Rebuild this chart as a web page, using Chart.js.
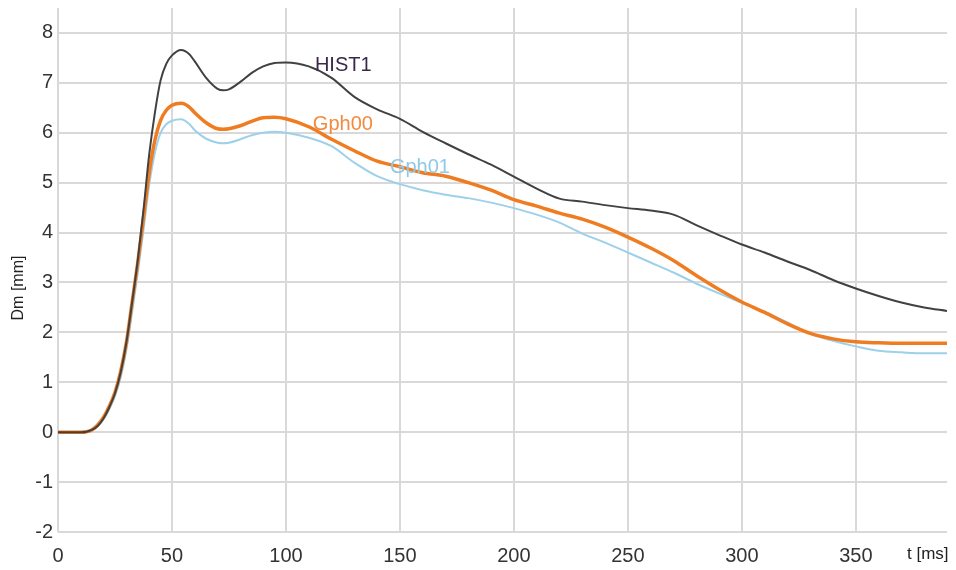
<!DOCTYPE html>
<html>
<head>
<meta charset="utf-8">
<script src="https://cdn.jsdelivr.net/npm/chart.js@4/dist/chart.umd.min.js"></script>
<style>
  html, body { margin: 0; padding: 0; background: #fff; }
  #wrap { position: relative; width: 956px; height: 570px; }
</style>
</head>
<body>
<div id="wrap"><canvas id="c"></canvas></div>
<script>
// ── data ───────────────────────────────────────────────
const tMs = [0, 10, 12.5, 15, 17.5, 20, 22.5, 25, 27.5, 30, 32.5, 35, 37.5, 40, 42.5, 45, 47.5, 50,
             54, 57.5, 60, 65, 70, 72.5, 75, 80, 85, 90, 95, 100,
             110, 120, 130, 140, 150, 160, 170, 180, 190, 200, 210, 220, 230, 240, 250,
             260, 270, 280, 290, 300, 310, 320, 330, 340, 350, 360, 370, 380, 390];

const hist1 = [0, 0, 0.01, 0.05, 0.13, 0.28, 0.5, 0.78, 1.2, 1.8, 2.6, 3.45, 4.45, 5.56, 6.4, 7.05, 7.38, 7.55,
               7.66, 7.58, 7.43, 7.1, 6.88, 6.85, 6.87, 7.02, 7.2, 7.33, 7.4, 7.41,
               7.33, 7.1, 6.72, 6.47, 6.28, 6.02, 5.79, 5.57, 5.36, 5.12, 4.88, 4.68, 4.62, 4.55, 4.49,
               4.44, 4.36, 4.15, 3.95, 3.76, 3.6, 3.42, 3.25, 3.05, 2.88, 2.73, 2.6, 2.5, 2.43];

const gph00 = [0, 0, 0.01, 0.05, 0.15, 0.3, 0.52, 0.8, 1.22, 1.8, 2.6, 3.4, 4.3, 5.2, 5.85, 6.25, 6.45, 6.55,
               6.59, 6.52, 6.4, 6.2, 6.08, 6.07, 6.08, 6.14, 6.23, 6.3, 6.31, 6.28,
               6.12, 5.87, 5.64, 5.43, 5.32, 5.2, 5.13, 5.0, 4.85, 4.66, 4.53, 4.39, 4.27, 4.11, 3.91,
               3.69, 3.44, 3.14, 2.86, 2.61, 2.4, 2.17, 1.98, 1.87, 1.81, 1.79, 1.78, 1.78, 1.78];

const gph01 = [0, 0, 0.01, 0.04, 0.12, 0.26, 0.46, 0.72, 1.1, 1.65, 2.4, 3.2, 4.05, 4.95, 5.6, 6.0, 6.17, 6.24,
               6.27, 6.18, 6.05, 5.88, 5.8, 5.79, 5.8, 5.87, 5.95, 6.0, 6.02, 6.0,
               5.9, 5.73, 5.4, 5.13, 4.97, 4.85, 4.76, 4.69, 4.6, 4.49, 4.36, 4.2, 3.98, 3.8, 3.6,
               3.4, 3.2, 2.98, 2.78, 2.59, 2.41, 2.2, 1.97, 1.83, 1.72, 1.63, 1.6, 1.58, 1.58];

// in-plot series names: [text, t, value]
const seriesTags = [
    ['HIST1', 112.7, 7.35],
    ['Gph00', 111.8, 6.17],
    ['Gph01', 145.6, 5.31]
];

const FONT = '"Liberation Sans", Arial, sans-serif';
const COLORS    = ['#414141', '#f07c21', '#9dd0ea'];
const TAG_COLOR = ['#3a2848', '#f28a3e', '#8ec9e8'];

const pts = vals => vals.map((v, i) => ({ x: tMs[i], y: v }));

// ── texts drawn on top: series tags + axis titles ─────
const textPlugin = {
    id: 'texts',
    afterDatasetsDraw(chart) {
        const { ctx, scales: { x, y }, chartArea } = chart;
        ctx.save();
        ctx.font = '20px ' + FONT;
        ctx.textBaseline = 'middle';
        ctx.textAlign = 'left';
        seriesTags.forEach(([txt, t, v], i) => {
            ctx.fillStyle = TAG_COLOR[i];
            ctx.fillText(txt, x.getPixelForValue(t), y.getPixelForValue(v));
        });

        ctx.fillStyle = '#222';
        ctx.font = '17px ' + FONT;
        ctx.fillText('t [ms]', chartArea.right - 40, chartArea.bottom + 22);

        ctx.translate(19, chartArea.top + 280);
        ctx.rotate(-Math.PI / 2);
        ctx.textAlign = 'center';
        ctx.font = '16px ' + FONT;
        ctx.fillText('Dm [mm]', 0, 0);
        ctx.restore();
    }
};

new Chart(document.getElementById('c'), {
    type: 'line',
    data: {
        datasets: [
            { label: 'HIST1', data: pts(hist1), borderColor: COLORS[0], borderWidth: 2,   order: 0 },
            { label: 'Gph00', data: pts(gph00), borderColor: COLORS[1], borderWidth: 3.5, order: 1 },
            { label: 'Gph01', data: pts(gph01), borderColor: COLORS[2], borderWidth: 2,   order: 2 }
        ].map(d => ({ ...d, pointRadius: 0, fill: false, cubicInterpolationMode: 'monotone' }))
    },
    options: {
        responsive: true,
        maintainAspectRatio: false,
        animation: false,
        layout: { padding: { top: 8, right: 9, left: 0, bottom: 0 } },
        plugins: { legend: { display: false }, tooltip: { enabled: false } },
        scales: {
            x: {
                type: 'linear', min: 0, max: 390,
                afterFit: s => { s.height = 38; s.paddingLeft = 0; s.paddingRight = 0; },
                ticks: { stepSize: 50, includeBounds: false, padding: 12, color: '#333',
                         font: { family: FONT, size: 20 } },
                grid: { color: '#d9d9d9', lineWidth: 2, drawTicks: false },
                border: { display: false }
            },
            y: {
                min: -2, max: 8.5,
                afterFit: s => { s.width = 58; s.paddingTop = 0; s.paddingBottom = 0; },
                ticks: { stepSize: 1, includeBounds: false, padding: 5, color: '#333',
                         font: { family: FONT, size: 20 } },
                grid: { color: '#d9d9d9', lineWidth: 2, drawTicks: false },
                border: { display: false }
            }
        }
    },
    plugins: [textPlugin]
});
</script>
</body>
</html>
